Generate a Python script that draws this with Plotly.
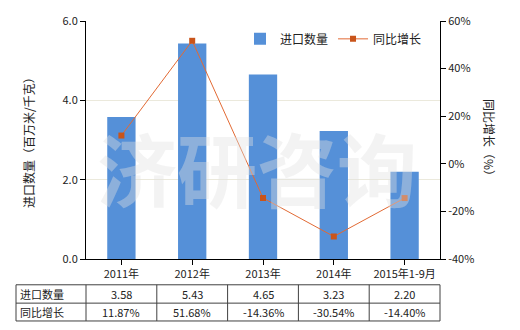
import plotly.graph_objects as go

categories = ["2011年", "2012年", "2013年", "2014年", "2015年1-9月"]
import_qty = [3.58, 5.43, 4.65, 3.23, 2.20]
yoy_growth = [11.87, 51.68, -14.36, -30.54, -14.40]
qty_labels = ["3.58", "5.43", "4.65", "3.23", "2.20"]
growth_labels = ["11.87%", "51.68%", "-14.36%", "-30.54%", "-14.40%"]
row_names = ["进口数量", "同比增长"]

FONT = "Noto Sans CJK SC, Verdana, sans-serif"
W, H = 520, 330
ML, MR, MT, MB = 86, 80, 19, 71
PW, PH = W - ML - MR, H - MT - MB

def px_x(p):
    return (p - ML) / PW

def px_y(p):
    return (H - MB - p) / PH

fig = go.Figure()
fig.add_trace(go.Bar(x=categories, y=import_qty, name="进口数量",
                     marker=dict(color="#5590d8", line=dict(width=0)),
                     width=0.4, yaxis="y"))
fig.add_trace(go.Scatter(x=categories, y=yoy_growth, name="同比增长",
                         mode="lines+markers",
                         line=dict(color="#e26a34", width=1),
                         marker=dict(symbol="square", size=6, color="#c9541a"),
                         yaxis="y2"))

shapes = []
annotations = []
line_col = "#404040"
tx0, tx1 = 16, 440
ty = [285, 303.5, 321.5]
col_edges = [16, 86] + [86 + PW * (i + 1) / 5 for i in range(5)]
for yv in ty:
    shapes.append(dict(type="line", xref="paper", yref="paper",
                       x0=px_x(tx0), x1=px_x(tx1), y0=px_y(yv), y1=px_y(yv),
                       line=dict(color=line_col, width=1)))
for xv in col_edges:
    shapes.append(dict(type="line", xref="paper", yref="paper",
                       x0=px_x(xv), x1=px_x(xv), y0=px_y(ty[0]), y1=px_y(ty[2]),
                       line=dict(color=line_col, width=1)))
rows = [qty_labels, growth_labels]
for r, (name, vals) in enumerate(zip(row_names, rows)):
    yc = (ty[r] + ty[r + 1]) / 2
    annotations.append(dict(text=name, xref="paper", yref="paper",
                            x=px_x(18), y=px_y(yc), xanchor="left", yanchor="middle",
                            showarrow=False, font=dict(size=11, color="#222", family=FONT)))
    for i, v in enumerate(vals):
        xc = (col_edges[i + 1] + col_edges[i + 2]) / 2
        annotations.append(dict(text=v, xref="paper", yref="paper",
                                x=px_x(xc), y=px_y(yc), xanchor="center", yanchor="middle",
                                showarrow=False, font=dict(size=11, color="#222", family=FONT)))

annotations.append(dict(text="进口数量（百万米/千克）", xref="paper", yref="paper",
                        x=px_x(28), y=0.5, textangle=-90, showarrow=False,
                        xanchor="center", yanchor="middle",
                        font=dict(size=12, color="#222", family=FONT)))
annotations.append(dict(text="同比增长（%）", xref="paper", yref="paper",
                        x=px_x(490), y=0.5, textangle=90, showarrow=False,
                        xanchor="center", yanchor="middle",
                        font=dict(size=12, color="#222", family=FONT)))
annotations.append(dict(text="济研咨询", xref="paper", yref="paper",
                        x=px_x(257), y=px_y(165), showarrow=False,
                        xanchor="center", yanchor="middle",
                        font=dict(size=80, color="rgba(225,225,225,0.4)", family=FONT,
                                  weight=700)))

fig.update_layout(
    width=W, height=H,
    margin=dict(l=ML, r=MR, t=MT, b=MB, pad=0),
    paper_bgcolor="white", plot_bgcolor="white",
    font=dict(family=FONT, size=11, color="#222"),
    showlegend=True,
    legend=dict(orientation="h", x=px_x(240), y=px_y(37), xanchor="left", yanchor="middle",
                bgcolor="rgba(0,0,0,0)", font=dict(size=12, family=FONT),
                itemwidth=30, tracegroupgap=0),
    xaxis=dict(type="category", showline=True, linecolor="black", linewidth=1,
               ticks="outside", ticklen=5, tickcolor="black",
               tickfont=dict(size=11, family=FONT), showgrid=False),
    yaxis=dict(range=[0, 6], tickvals=[0, 2, 4, 6], ticktext=["0.0", "2.0", "4.0", "6.0"],
               showline=True, linecolor="black", linewidth=1, ticks="outside", ticklen=5,
               tickcolor="black", gridcolor="#ebe9dc", gridwidth=1, zeroline=False,
               tickfont=dict(size=11, family=FONT)),
    yaxis2=dict(range=[-40, 60], tickvals=[-40, -20, 0, 20, 40, 60],
                ticktext=["-40%", "-20%", "0%", "20%", "40%", "60%"],
                overlaying="y", side="right", showline=True, linecolor="black",
                linewidth=1, ticks="outside", ticklen=5, tickcolor="black",
                showgrid=False, zeroline=False, tickfont=dict(size=11, family=FONT)),
    shapes=shapes, annotations=annotations,
)

fig.write_html("out.html")
